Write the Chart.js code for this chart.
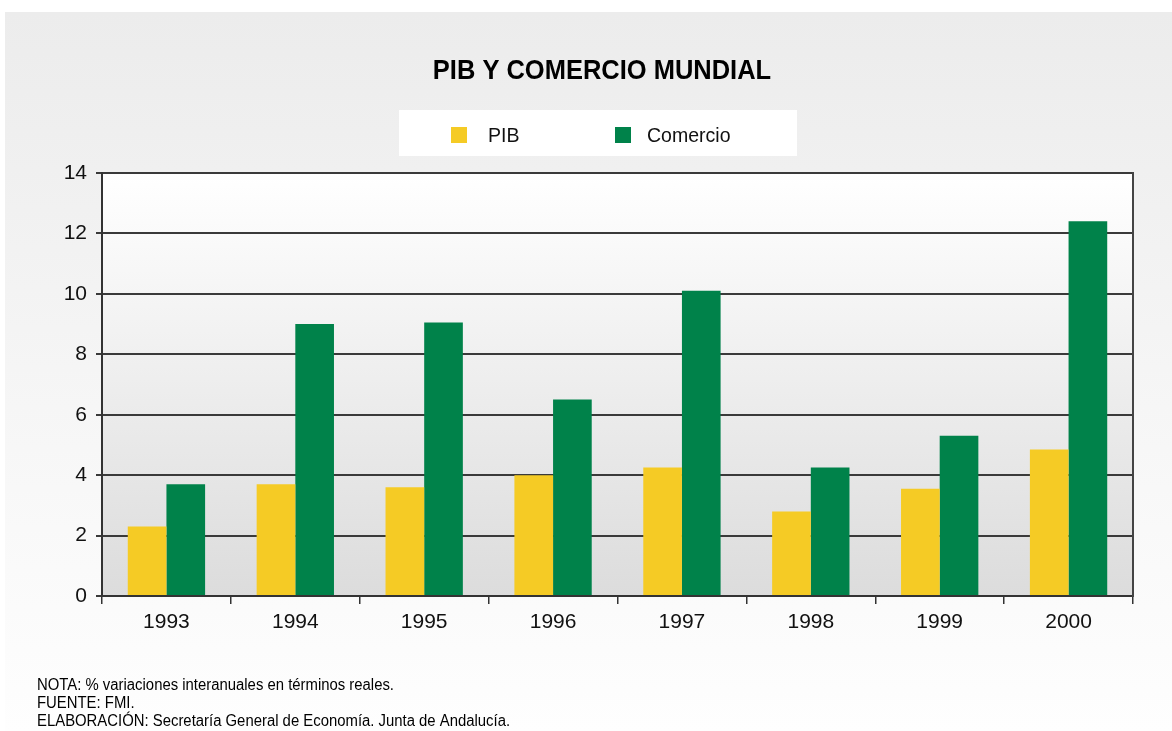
<!DOCTYPE html>
<html>
<head>
<meta charset="utf-8">
<script src="https://cdn.jsdelivr.net/npm/chart.js@4/dist/chart.umd.min.js"></script>
<style>
  html, body { margin: 0; padding: 0; background: #ffffff; }
  #wrap { position: relative; width: 1172px; height: 731px; }
  canvas { display: block; }
</style>
</head>
<body>
<div id="wrap"><canvas id="c" width="1172" height="731"></canvas></div>
<script>
// ---- Data ----
const categories = ['1993', '1994', '1995', '1996', '1997', '1998', '1999', '2000'];
const pibValues = [2.3, 3.7, 3.6, 4.0, 4.25, 2.8, 3.55, 4.85];
const comercioValues = [3.7, 9.0, 9.05, 6.5, 10.1, 4.25, 5.3, 12.4];
const seriesLabels = ['PIB', 'Comercio'];
const yTicks = [0, 2, 4, 6, 8, 10, 12, 14];
const titleText = 'PIB Y COMERCIO MUNDIAL';
const notes = [
  'NOTA: % variaciones interanuales en términos reales.',
  'FUENTE: FMI.',
  'ELABORACIÓN: Secretaría General de Economía. Junta de Andalucía.'
];

const YELLOW = '#F5CB25';
const GREEN = '#00824A';
const SANS = "'Liberation Sans', Arial, sans-serif";

// draw text horizontally condensed (the original uses a condensed face)
function condensedText(ctx, text, x, y, sx, align) {
  ctx.save();
  ctx.translate(x, y);
  ctx.scale(sx, 1);
  ctx.textAlign = align;
  ctx.textBaseline = 'middle';
  ctx.fillText(text, 0, 0);
  ctx.restore();
}

const decorPlugin = {
  id: 'decor',
  beforeDraw(chart) {
    const ctx = chart.ctx;
    const W = chart.width, H = chart.height;
    ctx.save();
    ctx.fillStyle = '#ffffff';
    ctx.fillRect(0, 0, W, H);
    const g = ctx.createLinearGradient(0, 12, 0, H);
    g.addColorStop(0, '#ececec');
    g.addColorStop(0.55, '#f6f6f6');
    g.addColorStop(1, '#fefefe');
    ctx.fillStyle = g;
    ctx.fillRect(5, 12, W - 5, H - 12);
    const a = chart.chartArea;
    const g2 = ctx.createLinearGradient(0, a.top, 0, a.bottom);
    g2.addColorStop(0, '#ffffff');
    g2.addColorStop(1, '#dcdcdc');
    ctx.fillStyle = g2;
    ctx.fillRect(a.left, a.top, a.right - a.left, a.bottom - a.top);
    ctx.restore();
  },
  afterDraw(chart) {
    const ctx = chart.ctx;
    ctx.save();
    // title
    ctx.fillStyle = '#000000';
    ctx.font = "bold 28px " + SANS;
    condensedText(ctx, titleText, 602, 71, 0.91, 'center');
    // legend box
    ctx.fillStyle = '#ffffff';
    ctx.fillRect(399, 110, 398, 46);
    const items = [
      { box: 451, text: 488 },
      { box: 615, text: 647 }
    ];
    ctx.font = "21px " + SANS;
    chart.data.datasets.forEach((ds, i) => {
      ctx.fillStyle = ds.backgroundColor;
      ctx.fillRect(items[i].box, 127, 16, 16);
      ctx.fillStyle = '#111111';
      condensedText(ctx, ds.label, items[i].text, 136, 0.93, 'left');
    });
    // notes
    ctx.font = "16px " + SANS;
    ctx.fillStyle = '#000000';
    notes.forEach((t, i) => condensedText(ctx, t, 37, 686 + i * 18, 0.93, 'left'));
    ctx.restore();
  }
};

new Chart(document.getElementById('c'), {
  type: 'bar',
  data: {
    labels: categories,
    datasets: [
      { label: seriesLabels[0], data: pibValues, backgroundColor: YELLOW, borderWidth: 0 },
      { label: seriesLabels[1], data: comercioValues, backgroundColor: GREEN, borderWidth: 0 }
    ]
  },
  options: {
    responsive: false,
    animation: false,
    devicePixelRatio: 1,
    layout: { padding: { top: 173, left: 0, right: 0, bottom: 0 } },
    plugins: {
      legend: { display: false },
      title: { display: false },
      tooltip: { enabled: false }
    },
    datasets: { bar: { barPercentage: 1.0, categoryPercentage: 0.6 } },
    scales: {
      x: {
        offset: true,
        grid: { display: true, drawOnChartArea: false, drawTicks: true, offset: true, tickLength: 8, color: '#333333', lineWidth: 1.5 },
        border: { display: true, color: '#333333', width: 2 },
        ticks: { color: '#111111', font: { family: SANS, size: 21 }, padding: 6 },
        afterFit: s => { s.height = 731 - 596; }
      },
      y: {
        min: 0, max: 14,
        afterBuildTicks: s => { s.ticks = yTicks.map(v => ({ value: v })); },
        grid: { color: '#3a3a3a', lineWidth: 2, tickLength: 6, drawTicks: true },
        border: { display: true, color: '#333333', width: 2 },
        ticks: { color: '#111111', font: { family: SANS, size: 21 }, padding: 9 },
        afterFit: s => { s.width = 102; }
      },
      y2: {
        position: 'right',
        min: 0, max: 14,
        grid: { display: false, drawTicks: false },
        border: { display: true, color: '#444444', width: 2 },
        ticks: { display: false },
        afterFit: s => { s.width = 1172 - 1133; }
      }
    }
  },
  plugins: [decorPlugin]
});
</script>
</body>
</html>
